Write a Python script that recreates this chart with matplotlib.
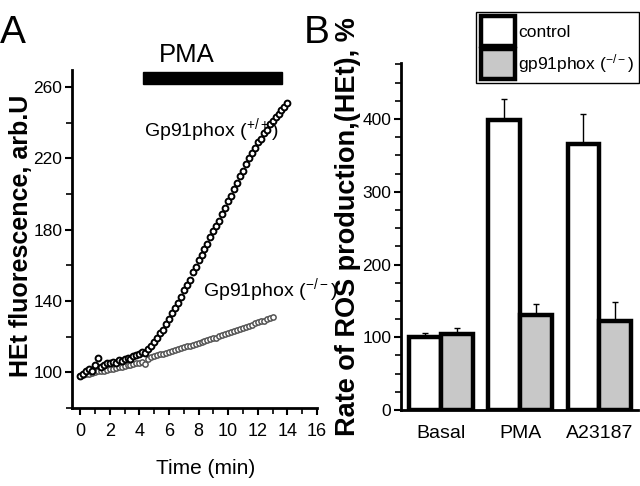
import matplotlib
matplotlib.use("Agg")
import matplotlib.pyplot as plt
from matplotlib.patches import Rectangle
from matplotlib.ticker import MultipleLocator

plt.rcParams["font.family"] = ["Liberation Sans", "DejaVu Sans"]
plt.rcParams["mathtext.fontset"] = "custom"
plt.rcParams["mathtext.rm"] = "Liberation Sans"
plt.rcParams["mathtext.default"] = "regular"

# Panel A: HEt fluorescence time course (sampled every 0.2 min)
time_wt = [0.0, 0.2, 0.4, 0.6, 0.8, 1.0, 1.2, 1.4, 1.6, 1.8,
           2.0, 2.2, 2.4, 2.6, 2.8, 3.0, 3.2, 3.4, 3.6, 3.8,
           4.0, 4.2, 4.4, 4.6, 4.8, 5.0, 5.2, 5.4, 5.6, 5.8,
           6.0, 6.2, 6.4, 6.6, 6.8, 7.0, 7.2, 7.4, 7.6, 7.8,
           8.0, 8.2, 8.4, 8.6, 8.8, 9.0, 9.2, 9.4, 9.6, 9.8,
           10.0, 10.2, 10.4, 10.6, 10.8, 11.0, 11.2, 11.4, 11.6, 11.8,
           12.0, 12.2, 12.4, 12.6, 12.8, 13.0, 13.2, 13.4, 13.6, 13.8,
           14.0]
het_wt = [98, 99, 100.5, 102, 101, 104, 108, 103, 104, 105,
          105.5, 106, 105, 107, 106.5, 107.5, 108, 107.5, 109, 109.5,
          110.5, 111.5, 111, 113, 115, 117, 119, 122, 124, 127,
          130, 133, 136, 139, 142, 146, 149, 152, 156, 159,
          163, 166, 169, 172, 176, 179, 182, 185, 189, 192,
          196, 199, 203, 206, 210, 213, 217, 220, 223, 226,
          229, 231, 234, 236, 239, 241, 243, 245, 247, 249,
          251]

time_ko = [0.0, 0.2, 0.4, 0.6, 0.8, 1.0, 1.2, 1.4, 1.6, 1.8,
           2.0, 2.2, 2.4, 2.6, 2.8, 3.0, 3.2, 3.4, 3.6, 3.8,
           4.0, 4.2, 4.4, 4.6, 4.8, 5.0, 5.2, 5.4, 5.6, 5.8,
           6.0, 6.2, 6.4, 6.6, 6.8, 7.0, 7.2, 7.4, 7.6, 7.8,
           8.0, 8.2, 8.4, 8.6, 8.8, 9.0, 9.2, 9.4, 9.6, 9.8,
           10.0, 10.2, 10.4, 10.6, 10.8, 11.0, 11.2, 11.4, 11.6, 11.8,
           12.0, 12.2, 12.4, 12.6, 12.8, 13.0]
het_ko = [98, 98.5, 99, 99, 99.5, 100, 100.5, 100.5, 101, 101.5,
          102, 102, 102.5, 103, 103, 103.5, 104, 104, 104.5, 105,
          105.5, 106, 104.5, 107.5, 108.5, 109, 109.5, 110, 110.5, 111,
          111.5, 112, 112.5, 113, 113.5, 114, 114.5, 115, 115.5, 116,
          116.5, 117, 117.5, 118, 118.5, 119, 119.5, 120.5, 121, 121.5,
          122, 122.5, 123, 124, 124.5, 125, 125.5, 126, 126.5, 127.5,
          128, 128.5, 129, 130, 130.5, 131]

pma_period = [4.26, 13.65]

# Panel B: rate of ROS production
conditions = ["Basal", "PMA", "A23187"]
control_mean = [100, 398, 365]
control_err = [6, 30, 42]
ko_mean = [105, 130, 122]
ko_err = [8, 16, 27]

fig = plt.figure(figsize=(6.4, 4.86), dpi=100)

# ---- Panel A
axA = fig.add_axes([72 / 640, 1 - 408 / 486, 245 / 640, 338 / 486])
axA.plot(time_wt, het_wt, "o", ms=4.2, mfc="white", mec="black", mew=1.4,
         clip_on=False, zorder=3)
axA.plot(time_ko, het_ko, "o", ms=3.8, mfc="white", mec="#555555", mew=1.1,
         clip_on=False, zorder=2)
axA.add_patch(Rectangle((pma_period[0], 261.7), pma_period[1] - pma_period[0], 6.7,
                        color="black", clip_on=False))
axA.text(7.2, 278, "PMA", fontsize=18.5, ha="center", va="center", clip_on=False)
axA.text(4.3, 236, "Gp91phox ($^{+/+}$)", fontsize=14, ha="left", va="center")
axA.text(8.3, 146, "Gp91phox ($^{-/-}$)", fontsize=14, ha="left", va="center")

axA.set_xlim(-0.55, 16)
axA.set_ylim(80, 269.5)
axA.set_xticks(range(0, 17, 2))
axA.xaxis.set_minor_locator(MultipleLocator(1))
axA.set_yticks([100, 140, 180, 220, 260])
axA.yaxis.set_minor_locator(MultipleLocator(20))
axA.tick_params(which="major", length=5, width=1.5, labelsize=12.5, pad=2)
axA.tick_params(which="minor", length=4, width=1.2)
axA.tick_params(axis="x", labelsize=13, pad=6)
for side in ["top", "right"]:
    axA.spines[side].set_visible(False)
for side in ["left", "bottom"]:
    axA.spines[side].set_linewidth(2)
axA.set_xlabel("Time (min)", fontsize=15)
axA.xaxis.set_label_coords((206 - 72) / 245, -(459 - 408) / 338)

fig.text(21 / 640, 1 - 236 / 486, "HEt fluorescence, arb.U", rotation=90,
         ha="center", va="center", fontsize=18, fontweight="bold")
fig.text(0, 1 - 33 / 486, "A", fontsize=28, ha="left", va="center")
fig.text(304 / 640, 1 - 33 / 486, "B", fontsize=28, ha="left", va="center")

# ---- Panel B
axB = fig.add_axes([401 / 640, 1 - 410 / 486, 237 / 640, 347 / 486])
x = range(len(conditions))
width = 0.4
xc = [i - width / 2 for i in x]
xk = [i + width / 2 for i in x]
b1 = axB.bar(xc, control_mean, width, color="white", edgecolor="black",
             linewidth=3.2, label="control", zorder=2)
b2 = axB.bar(xk, ko_mean, width, color="#c8c8c8", edgecolor="black",
             linewidth=3.2, label="gp91phox ($^{-/-}$)", zorder=2)
axB.errorbar(xc, control_mean, yerr=[[0] * 3, control_err], fmt="none",
             ecolor="black", elinewidth=1, capsize=2.5, capthick=1, zorder=1)
axB.errorbar(xk, ko_mean, yerr=[[0] * 3, ko_err], fmt="none",
             ecolor="black", elinewidth=1, capsize=2.5, capthick=1, zorder=1)

axB.set_xlim(-0.506, 2.49)
axB.set_ylim(0, 477)
axB.yaxis.set_major_locator(MultipleLocator(100))
axB.yaxis.set_minor_locator(MultipleLocator(25))
axB.set_xticks(list(x))
axB.set_xticklabels(conditions)
axB.tick_params(axis="x", length=0, labelsize=14, pad=11)
axB.tick_params(axis="y", which="major", length=5, width=1.5, labelsize=12.5, pad=2)
axB.tick_params(axis="y", which="minor", length=4, width=1.2)
for side in ["top", "right"]:
    axB.spines[side].set_visible(False)
for side in ["left", "bottom"]:
    axB.spines[side].set_linewidth(2)

fig.text(348 / 640, 1 - 227 / 486, "Rate of ROS production,(HEt), %",
         rotation=90, ha="center", va="center", fontsize=19.5,
         fontweight="bold")

leg = fig.legend(handles=[b1, b2], loc="upper right",
                 bbox_to_anchor=(639 / 640, 1 - 12 / 486), fontsize=12.5,
                 frameon=True, fancybox=False, edgecolor="black",
                 framealpha=1, handlelength=1.95, handleheight=2.25,
                 handletextpad=0.2, labelspacing=0.2, borderpad=0.25,
                 borderaxespad=0)
leg.get_frame().set_linewidth(1)

fig.savefig("out.png", dpi=100)
